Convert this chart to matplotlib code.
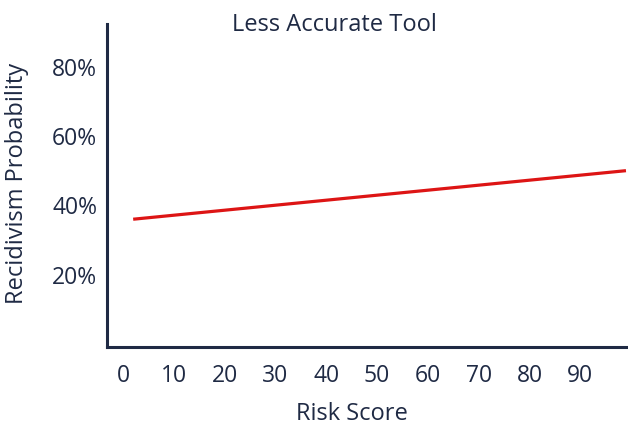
import matplotlib
matplotlib.use("Agg")
import matplotlib.pyplot as plt

# Data
risk_scores = [2, 99]
probabilities = [36, 50]
x_ticks = [0, 10, 20, 30, 40, 50, 60, 70, 80, 90]
y_ticks = [20, 40, 60, 80]
y_tick_labels = ["20%", "40%", "60%", "80%"]
title = "Less Accurate Tool"
x_label = "Risk Score"
y_label = "Recidivism Probability"

navy = "#1f2a44"
plt.rcParams['font.family'] = ['Open Sans', 'DejaVu Sans']

fig = plt.figure(figsize=(6.28, 4.44), dpi=100)
ax = fig.add_axes([0.1704, 0.2185, 0.8296, 0.7275])

ax.plot(risk_scores, probabilities, color="#dd1515", linewidth=2.3, solid_capstyle="butt")

ax.set_xlim(-3.15, 99.4)
ax.set_ylim(-0.84, 92.3)
ax.set_xticks(x_ticks)
ax.set_xticklabels([str(v) for v in x_ticks])
ax.set_yticks(y_ticks)
ax.set_yticklabels(y_tick_labels)
ax.tick_params(axis='both', length=0, colors=navy, labelsize=16.5)
ax.tick_params(axis='x', pad=12)
ax.tick_params(axis='y', pad=7)

for s in ['top', 'right']:
    ax.spines[s].set_visible(False)
for s in ['left', 'bottom']:
    ax.spines[s].set_color(navy)
    ax.spines[s].set_linewidth(2.2)

fig.text(334/628, 1-25/444, title, ha='center', va='center', fontsize=17, color=navy)
fig.text(17/628, 1-183/444, y_label, ha='center', va='center', rotation=90, fontsize=17, color=navy)
fig.text(352/628, 1-414/444, x_label, ha='center', va='center', fontsize=17, color=navy)

fig.savefig("out.png", dpi=100, facecolor="white")
